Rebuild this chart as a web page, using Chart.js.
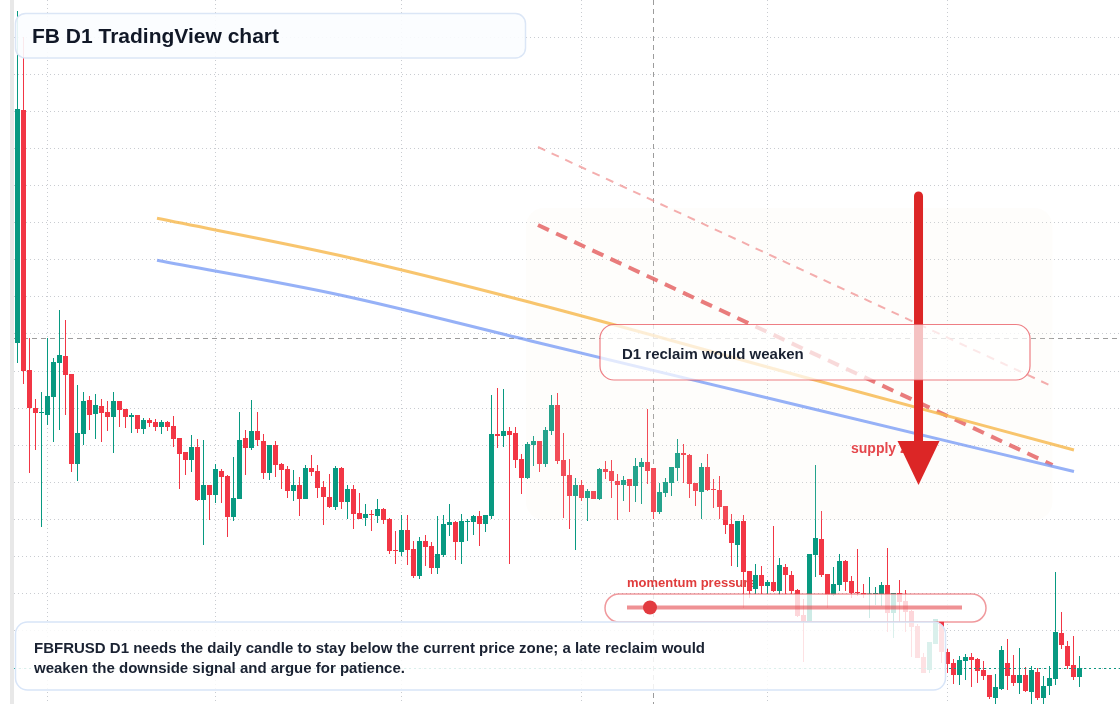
<!DOCTYPE html>
<html>
<head>
<meta charset="utf-8">
<title>FB D1 TradingView chart</title>
<script src="https://cdn.jsdelivr.net/npm/chart.js@4.4.1/dist/chart.umd.min.js"></script>
<style>
  html, body { margin: 0; padding: 0; background: #fff; }
  #wrap { width: 1120px; height: 704px; }
</style>
</head>
<body>
<div id="wrap"><canvas id="fbChart" width="1120" height="704"></canvas></div>
<script>
// DAILY CANDLES (index 0 = Jan 27, one candle per day)
const opens = [
  65.7, 89.0, 63.0, 59.2, 58.7, 58.5, 60.3, 63.7, 64.4, 62.6, 53.6, 56.6, 60.0, 58.6, 59.4, 58.8, 58.3, 59.9, 59.1, 58.3,
  58.5, 57.1, 58.0, 57.8, 57.3, 57.8, 57.4, 56.2, 54.8, 54.0, 55.3, 50.0, 51.5, 50.5, 52.9, 52.4, 48.3, 50.1, 56.2, 55.2,
  56.9, 55.9, 52.7, 55.5, 53.6, 53.1, 50.9, 51.5, 50.1, 53.2, 52.9, 51.3, 50.3, 49.3, 53.2, 49.8, 51.1, 48.7, 48.2, 48.6,
  48.4, 49.1, 48.1, 45.0, 44.8, 47.0, 45.1, 42.4, 45.9, 45.4, 43.2, 44.5, 47.5, 47.8, 45.8, 47.8, 47.8, 48.4, 47.6, 48.4,
  56.6, 56.4, 56.9, 56.7, 54.1, 52.2, 55.5, 55.9, 53.6, 56.9, 59.5, 54.0, 52.5, 50.4, 51.5, 50.2, 50.9, 50.1, 53.1, 52.9,
  51.9, 51.5, 52.1, 51.4, 53.3, 53.8, 53.2, 48.8, 50.7, 51.7, 53.2, 54.7, 54.5, 51.7, 50.8, 53.3, 51.1, 51.0, 49.4, 47.6,
  45.5, 47.9, 42.9, 41.1, 42.5, 41.4, 41.8, 40.9, 43.3, 42.5, 41.0, 38.5, 37.9, 44.5, 46.1, 42.6, 40.5, 41.5, 43.9, 41.9,
  40.8, 40.7, 40.55, 40.6, 40.6, 41.5, 38.7, 40.7, 39.9, 38.9, 37.4, 34.3, 33.0, 35.6, 37.9, 34.8, 33.7, 32.5, 33.9, 34.3,
  34.1, 33.0, 32.5, 30.2, 31.1, 33.7, 32.5, 31.7, 32.5, 30.8, 32.8, 30.2, 31.4, 32.1, 36.7, 35.4, 33.5, 32.3
];
const highs = [
  98.9, 96.3, 66.2, 60.1, 60.8, 66.2, 64.2, 69.0, 68.0, 62.6, 61.5, 60.8, 60.4, 60.6, 60.1, 59.9, 60.8, 59.9, 59.1, 58.7,
  58.5, 58.2, 58.2, 58.1, 58.0, 57.9, 58.4, 56.2, 54.8, 56.5, 56.1, 56.0, 51.5, 53.6, 53.1, 52.5, 54.3, 58.8, 57.0, 60.0,
  58.8, 56.6, 55.5, 55.9, 53.7, 53.4, 53.0, 52.3, 53.5, 54.5, 53.5, 51.9, 52.6, 53.4, 53.3, 51.5, 51.5, 50.7, 49.6, 49.0,
  50.1, 49.2, 48.2, 46.9, 48.5, 48.5, 45.9, 46.3, 46.5, 45.8, 48.4, 48.5, 49.6, 47.9, 48.6, 48.1, 48.5, 48.9, 48.5, 60.5,
  61.2, 61.1, 57.3, 57.3, 54.6, 55.8, 56.4, 55.9, 57.3, 60.5, 60.7, 56.7, 54.1, 52.2, 52.0, 51.1, 50.9, 53.2, 53.9, 54.0,
  52.6, 52.4, 52.1, 54.2, 54.2, 59.1, 53.2, 51.7, 52.2, 53.3, 56.1, 55.6, 54.6, 51.7, 53.7, 54.6, 52.1, 52.4, 49.4, 48.6,
  47.9, 48.5, 42.9, 43.6, 43.4, 42.0, 47.4, 44.2, 43.6, 42.9, 41.1, 40.1, 44.6, 53.5, 48.9, 42.6, 43.3, 44.6, 44.0, 42.4,
  45.1, 41.6, 42.3, 41.3, 41.8, 45.2, 40.7, 42.0, 41.0, 39.0, 37.6, 34.7, 35.8, 38.1, 37.9, 35.1, 34.1, 34.4, 34.6, 34.7,
  34.2, 33.9, 32.5, 32.6, 35.4, 36.1, 34.5, 35.2, 33.3, 33.4, 33.2, 32.4, 33.4, 42.8, 38.8, 35.9, 36.4, 34.4
];
const lows = [
  63.7, 61.6, 52.7, 55.0, 47.3, 57.5, 55.8, 57.0, 58.5, 52.8, 51.9, 55.5, 57.0, 56.1, 55.8, 56.9, 54.7, 57.3, 57.2, 56.7,
  56.7, 56.6, 57.3, 56.9, 56.6, 56.9, 55.3, 51.1, 52.5, 52.8, 49.9, 45.5, 48.0, 49.7, 49.7, 46.3, 47.9, 50.1, 52.5, 55.0,
  55.4, 52.1, 52.0, 52.3, 51.1, 50.2, 49.9, 48.4, 50.1, 52.4, 50.2, 47.5, 49.2, 49.0, 49.1, 48.1, 47.1, 48.1, 47.4, 46.9,
  47.7, 47.6, 44.6, 43.6, 44.4, 43.5, 42.2, 42.1, 43.4, 42.6, 42.6, 44.3, 46.4, 44.0, 43.6, 45.9, 46.5, 45.4, 46.8, 48.1,
  55.2, 55.3, 43.6, 53.2, 50.6, 52.1, 53.4, 52.8, 53.3, 56.5, 53.6, 48.2, 47.1, 45.0, 49.9, 47.9, 50.1, 50.0, 52.1, 50.2,
  48.0, 49.9, 48.8, 49.8, 49.6, 51.6, 48.1, 48.6, 50.3, 50.4, 51.9, 51.7, 50.2, 49.4, 48.1, 50.9, 49.2, 48.1, 46.6, 43.4,
  43.3, 39.2, 40.2, 40.6, 40.6, 40.6, 40.8, 40.5, 40.6, 40.6, 38.3, 33.8, 37.9, 42.3, 42.3, 39.2, 40.4, 40.9, 40.9, 40.2,
  40.4, 40.2, 38.2, 39.5, 39.4, 36.8, 36.2, 37.8, 36.8, 34.3, 34.2, 32.7, 32.7, 35.6, 33.7, 32.7, 31.6, 31.5, 32.0, 31.3,
  31.7, 32.0, 30.1, 29.6, 31.0, 31.0, 31.4, 30.6, 30.8, 29.6, 30.0, 29.6, 30.5, 31.5, 35.1, 33.1, 32.0, 31.3
];
const closes = [
  89.1, 62.9, 59.2, 58.7, 58.8, 60.4, 63.8, 64.5, 62.5, 53.6, 56.7, 59.9, 58.5, 59.5, 58.7, 58.3, 59.9, 59.0, 58.3, 58.5,
  57.1, 58.0, 57.7, 57.3, 57.8, 57.3, 56.1, 54.6, 54.0, 55.3, 50.0, 51.5, 50.5, 53.1, 52.3, 48.3, 50.2, 56.0, 55.2, 56.9,
  56.0, 52.7, 55.5, 53.5, 53.0, 50.9, 51.5, 50.1, 53.2, 52.8, 51.2, 50.3, 49.3, 53.2, 49.8, 51.1, 48.6, 48.1, 48.6, 48.5,
  49.1, 48.0, 44.9, 44.9, 47.0, 45.0, 42.4, 45.9, 45.3, 43.2, 44.6, 47.6, 47.8, 45.8, 47.9, 47.9, 48.4, 47.6, 48.5, 56.6,
  56.4, 56.9, 56.5, 54.0, 52.2, 55.6, 55.9, 53.6, 57.0, 59.5, 53.9, 52.4, 50.4, 51.5, 50.2, 50.9, 50.1, 53.1, 52.8, 51.9,
  51.5, 52.0, 51.4, 53.4, 53.8, 52.9, 48.8, 50.8, 51.8, 53.3, 54.7, 54.5, 51.6, 50.9, 53.3, 51.0, 51.0, 49.3, 47.5, 45.7,
  47.9, 42.8, 40.9, 42.5, 41.4, 41.8, 40.9, 43.5, 42.5, 40.9, 38.4, 37.9, 44.6, 46.2, 42.5, 40.5, 41.6, 43.9, 41.8, 40.7,
  40.7, 40.5, 40.6, 40.6, 41.5, 38.7, 40.7, 39.8, 38.8, 37.3, 34.2, 32.7, 35.8, 38.1, 34.8, 33.6, 32.5, 34.0, 34.3, 34.0,
  32.9, 32.4, 30.3, 31.3, 35.0, 32.4, 31.7, 32.5, 30.9, 33.0, 30.2, 31.4, 32.2, 36.8, 35.5, 33.4, 32.3, 33.2
];

// grid: month starts (candle index) and price levels
const monthStarts = [5, 33, 64, 94, 125, 155];
const monthLabels = ['Feb', 'Mar', 'Apr', 'May', 'Jun', 'Jul'];
const gridLevels = [33.2, 36.91, 40.62, 44.34, 48.05, 51.76, 55.47, 59.18, 62.9, 66.61, 70.32, 74.03, 77.74, 81.46, 85.17, 88.88, 92.59, 96.3];

// moving averages
const maIndex = [23.25, 53.75, 85.42, 130.42, 176.08];
const slowMa = [78.17, 74.45, 69.77, 62.4, 55.0];
const fastMa = [73.97, 70.5, 65.93, 59.42, 52.85];

// falling channel
const channelIndex = [86.75, 172.5];
const channelUpper = [85.3, 61.35];
const channelLower = [77.5, 53.5];

// zone, arrow, crosshair, last price
const zoneIndex = [84.75, 172.5];
const zonePrice = [79.2, 48.0];
const arrowIndex = 150.17;
const arrowPrice = [80.4, 55.9, 51.5];
const crossIndex = 106;
const crossPrice = 66.2;
const lastPrice = closes[closes.length - 1];

const UP = '#089981';
const DOWN = '#f23645';
const FONT = '"Liberation Sans", Arial, sans-serif';
const candleColors = closes.map((c, i) => (c >= opens[i] ? UP : DOWN));

function roundBox(ctx, x, y, w, h, r, fill, stroke, lw) {
  ctx.beginPath();
  ctx.roundRect(x, y, w, h, r);
  if (fill) { ctx.fillStyle = fill; ctx.fill(); }
  if (stroke) { ctx.lineWidth = lw || 1; ctx.strokeStyle = stroke; ctx.stroke(); }
}

const overlays = {
  id: 'overlays',
  beforeDatasetsDraw(chart) {
    const { ctx, chartArea: a, scales: { x, y } } = chart;
    ctx.save();
    // left edge strip
    ctx.fillStyle = '#e8e8e8';
    ctx.fillRect(10, 0, 4, chart.height);
    // crosshair
    ctx.strokeStyle = '#9c9c9c';
    ctx.lineWidth = 1;
    ctx.setLineDash([5, 4]);
    const cx = Math.round(x.getPixelForValue(crossIndex)) + 0.5;
    const cy = Math.round(y.getPixelForValue(crossPrice)) + 0.5;
    ctx.beginPath();
    ctx.moveTo(cx, a.top); ctx.lineTo(cx, a.bottom);
    ctx.moveTo(a.left, cy); ctx.lineTo(a.right, cy);
    ctx.stroke();
    ctx.setLineDash([]);
    // label that sits under the candles
    ctx.fillStyle = '#e03c3c';
    ctx.font = 'bold 13px ' + FONT;
    ctx.fillText('momentum pressure', 627, 587);
    ctx.restore();
  },
  afterDatasetDraw(chart, args) {
    if (args.index !== 4) return;
    // supply zone shading, drawn over the candles
    const { ctx, scales: { x, y } } = chart;
    const x0 = x.getPixelForValue(zoneIndex[0]);
    const x1 = x.getPixelForValue(zoneIndex[1]);
    const y0 = y.getPixelForValue(zonePrice[0]);
    const y1 = y.getPixelForValue(zonePrice[1]);
    ctx.save();
    roundBox(ctx, x0, y0, x1 - x0, y1 - y0, 18, 'rgba(250,236,226,0.12)');
    ctx.restore();
  },
  afterDatasetsDraw(chart) {
    const { ctx, chartArea: a, scales: { x, y } } = chart;
    ctx.save();

    // last price line
    const py = Math.round(y.getPixelForValue(lastPrice)) + 0.5;
    ctx.strokeStyle = UP;
    ctx.lineWidth = 1.2;
    ctx.setLineDash([2, 3]);
    ctx.beginPath();
    ctx.moveTo(a.left, py); ctx.lineTo(a.right, py);
    ctx.stroke();
    ctx.setLineDash([]);

    // supply zone label (arrow head covers part of it)
    ctx.fillStyle = '#e5484d';
    ctx.font = 'bold 14px ' + FONT;
    ctx.fillText('supply zone', 851, 453);

    // down arrow
    const ax = x.getPixelForValue(arrowIndex);
    const aTop = y.getPixelForValue(arrowPrice[0]);
    const aBase = y.getPixelForValue(arrowPrice[1]);
    const aTip = y.getPixelForValue(arrowPrice[2]);
    ctx.strokeStyle = '#dc2626';
    ctx.fillStyle = '#dc2626';
    ctx.lineWidth = 9;
    ctx.lineCap = 'round';
    ctx.beginPath();
    ctx.moveTo(ax, aTop); ctx.lineTo(ax, aBase + 4);
    ctx.stroke();
    ctx.beginPath();
    ctx.moveTo(ax - 21, aBase); ctx.lineTo(ax + 21, aBase); ctx.lineTo(ax, aTip);
    ctx.closePath();
    ctx.fill();
    ctx.lineCap = 'butt';

    // reclaim note
    roundBox(ctx, 600, 324.5, 430, 55.5, 14, 'rgba(255,255,255,0.72)', 'rgba(232,84,92,0.75)', 1.2);
    ctx.fillStyle = '#1a2232';
    ctx.font = 'bold 15px ' + FONT;
    ctx.fillText('D1 reclaim would weaken', 622, 359);

    // momentum slider
    roundBox(ctx, 605, 594, 381, 28, 14, 'rgba(255,255,255,0.8)', 'rgba(228,70,76,0.55)', 1.5);
    ctx.strokeStyle = 'rgba(229,72,77,0.6)';
    ctx.lineWidth = 4;
    ctx.beginPath();
    ctx.moveTo(627, 607.5); ctx.lineTo(962, 607.5);
    ctx.stroke();
    ctx.fillStyle = '#e23b40';
    ctx.beginPath();
    ctx.arc(650, 607.5, 7, 0, Math.PI * 2);
    ctx.fill();

    // title
    roundBox(ctx, 15.5, 13.5, 510, 44.5, 10, 'rgba(251,253,255,0.9)', '#dbe6f6', 1.5);
    ctx.fillStyle = '#111827';
    ctx.font = 'bold 21px ' + FONT;
    ctx.fillText('FB D1 TradingView chart', 32, 43);

    // bottom note
    roundBox(ctx, 15.5, 622, 930, 68, 12, 'rgba(255,255,255,0.85)', '#d8e5f8', 1.5);
    ctx.fillStyle = '#1a2232';
    ctx.font = 'bold 15px ' + FONT;
    ctx.fillText('FBFRUSD D1 needs the daily candle to stay below the current price zone; a late reclaim would', 34, 653);
    ctx.fillText('weaken the downside signal and argue for patience.', 34, 673);
    ctx.restore();
  }
};

const lineStyle = { type: 'line', pointRadius: 0, fill: false, cubicInterpolationMode: 'monotone' };

new Chart(document.getElementById('fbChart'), {
  type: 'bar',
  data: {
    datasets: [
      { ...lineStyle, label: 'Slow MA', data: maIndex.map((v, i) => ({ x: v, y: slowMa[i] })),
        borderColor: 'rgba(247,184,78,0.82)', borderWidth: 3 },
      { ...lineStyle, label: 'Fast MA', data: maIndex.map((v, i) => ({ x: v, y: fastMa[i] })),
        borderColor: 'rgba(120,155,245,0.78)', borderWidth: 3 },
      { ...lineStyle, label: 'Channel top', data: channelIndex.map((v, i) => ({ x: v, y: channelUpper[i] })),
        borderColor: 'rgba(240,140,140,0.7)', borderWidth: 2, borderDash: [8, 7] },
      { ...lineStyle, label: 'Channel bottom', data: channelIndex.map((v, i) => ({ x: v, y: channelLower[i] })),
        borderColor: 'rgba(228,92,92,0.8)', borderWidth: 4, borderDash: [12, 8] },
      { label: 'Body', data: opens.map((o, i) => ({ x: i, y: [o, closes[i]] })),
        backgroundColor: candleColors, barThickness: 5, grouped: false, minBarLength: 1,
        inflateAmount: 0, borderWidth: 0 },
      { label: 'Wick', data: lows.map((l, i) => ({ x: i, y: [l, highs[i]] })),
        backgroundColor: candleColors, barThickness: 1, grouped: false,
        inflateAmount: 0, borderWidth: 0 }
    ]
  },
  options: {
    responsive: false,
    animation: false,
    devicePixelRatio: 1,
    layout: { padding: { left: 14, right: 0, top: 0, bottom: 0 } },
    plugins: { legend: { display: false }, tooltip: { enabled: false } },
    scales: {
      x: {
        type: 'linear', min: -0.5833, max: 183.75, offset: false,
        afterBuildTicks: s => { s.ticks = monthStarts.map(v => ({ value: v })); },
        afterFit: s => { s.height = 0; },
        ticks: { display: false, callback: (v, i) => monthLabels[i] },
        border: { display: false, dash: [1, 3] },
        grid: { color: '#c9ccd1', drawTicks: false, offset: false }
      },
      y: {
        min: 29.6, max: 100,
        afterBuildTicks: s => { s.ticks = gridLevels.map(v => ({ value: v })); },
        afterFit: s => { s.width = 0; },
        ticks: { display: false },
        border: { display: false, dash: [1, 3] },
        grid: { color: '#c9ccd1', drawTicks: false }
      }
    }
  },
  plugins: [overlays]
});
</script>
</body>
</html>
